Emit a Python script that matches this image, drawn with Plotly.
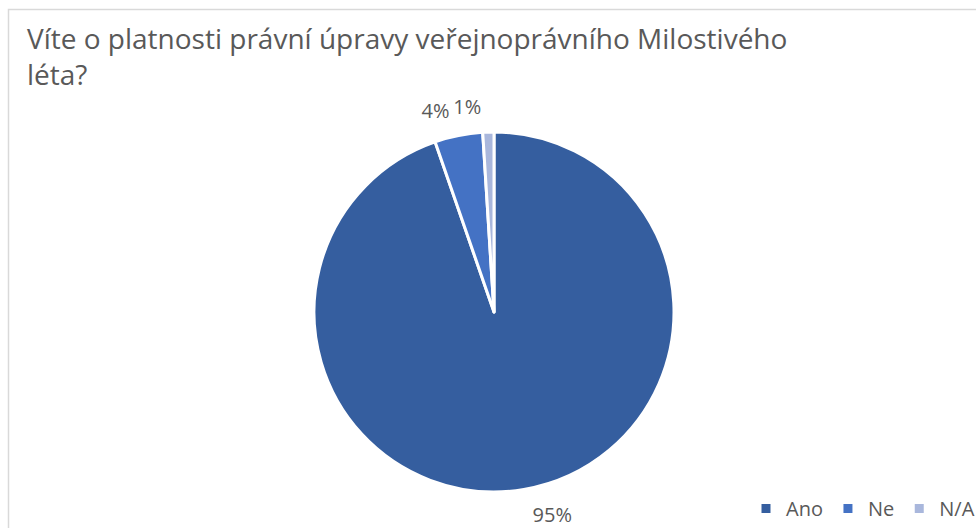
import plotly.graph_objects as go

categories = ["Ano", "Ne", "N/A"]
values = [94.7, 4.3, 1.0]
colors = ["#355E9F", "#4472C4", "#A9B7DC"]
title_lines = ["Víte o platnosti právní úpravy veřejnoprávního Milostivého", "léta?"]

W, H = 976, 528
cx, cy, half = 494, 312, 180      # pie centre and radius (px)
label_half = 192                  # radius at which the percentage labels sit
FONT = "Open Sans"
GREY = "#595959"


def dom(h):
    return dict(x=[(cx - h) / W, (cx + h) / W],
                y=[1 - (cy + h) / H, 1 - (cy - h) / H])


fig = go.Figure()
# the visible pie
fig.add_trace(go.Pie(
    labels=categories, values=values, sort=False,
    direction="clockwise", rotation=0,
    marker=dict(colors=colors, line=dict(color="white", width=3)),
    textinfo="none",
    hoverinfo="label+percent",
    domain=dom(half), automargin=False,
))
# transparent copies of the same pie, only to place the percentage labels a bit outside
for positions in (["outside", "none", "outside"], ["none", "outside", "none"]):
    fig.add_trace(go.Pie(
        labels=categories, values=values, sort=False,
        direction="clockwise", rotation=0,
        marker=dict(colors=["rgba(0,0,0,0)"] * 3, line=dict(width=0)),
        texttemplate="%{percent:.0%}",
        textposition=positions,
        textfont=dict(family=FONT, size=20, color=GREY),
        hoverinfo="skip", showlegend=False,
        domain=dom(label_half), automargin=False,
    ))

fig.update_layout(
    width=W, height=H,
    margin=dict(l=0, r=0, t=0, b=0, autoexpand=False),
    paper_bgcolor="white",
    plot_bgcolor="white",
    font=dict(family=FONT, color=GREY),
    annotations=[dict(text="<br>".join(title_lines), xref="paper", yref="paper",
                      x=25 / W, y=1 - 17 / H, xanchor="left", yanchor="top",
                      align="left", showarrow=False,
                      font=dict(family=FONT, size=28, color=GREY))],
    legend=dict(orientation="h", x=746 / W, xanchor="left", y=0.0, yanchor="bottom",
                font=dict(family=FONT, size=20, color=GREY),
                itemwidth=30, traceorder="normal"),
    shapes=[dict(type="rect", xref="paper", yref="paper",
                 x0=8.5 / W, x1=1.2, y0=-0.2, y1=1 - 9.5 / H,
                 line=dict(color="#D9D9D9", width=1.5), fillcolor="rgba(0,0,0,0)", layer="below")],
)

fig.write_html("out.html", config={"displayModeBar": False},
               post_script="document.body.style.margin='0';document.body.style.overflow='hidden';")
